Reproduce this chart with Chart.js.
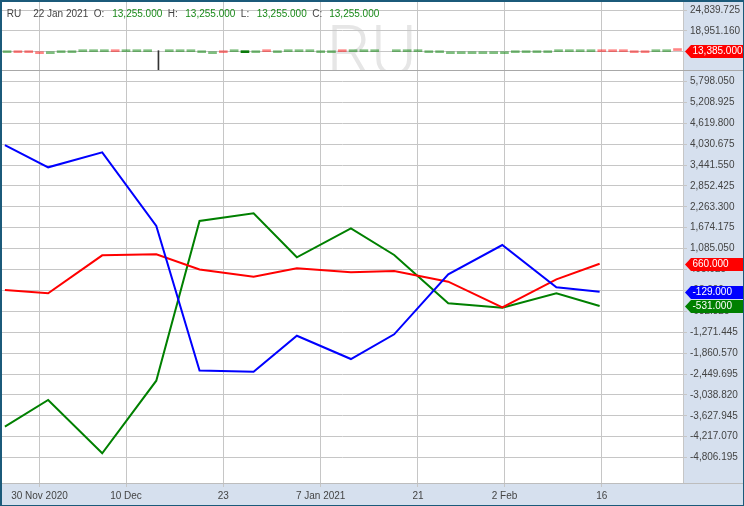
<!DOCTYPE html>
<html>
<head>
<meta charset="utf-8">
<script src="https://cdn.jsdelivr.net/npm/chart.js@4.4.1/dist/chart.umd.min.js"></script>
<style>
  body { margin: 0; background: #fff; }
  #frame {
    position: absolute; left: 0; top: 0;
    width: 741px; height: 503px;
    border-left: 2px solid #1b5a7a; border-top: 2px solid #1b5a7a;
    border-right: 1px solid #1b5a7a; border-bottom: 1px solid #1b5a7a;
  }
  canvas { display: block; }
</style>
</head>
<body>
<div id="frame"><canvas id="chart" width="741" height="503"></canvas></div>
<script>
// header of the top (RU) panel
const ticker = 'RU';
const hdrDate = '22 Jan 2021';
const hdrOHLC = [13255, 13255, 13255, 13255];

// x axis: trading-day index, 30 Nov 2020 = 0
const xTickDays = [0, 8, 17, 26, 35, 43, 52];
const xTickLabels = ['30 Nov 2020', '10 Dec', '23', '7 Jan 2021', '21', '2 Feb', '16'];

// weekly lines (main panel)
const weekDays = [-3, 1, 6, 11, 15, 20, 24, 29, 33, 38, 43, 48, 52];
const blueValues = [4005, 3377, 3800, 1722, -2351, -2385, -1370, -2027, -1331, 361, 1187, -6, -129];
const redValues = [-82, -175, 896, 925, 496, 293, 530, 417, 454, 152, -570, 220, 660];
const greenValues = [-3935, -3182, -4685, -2638, 1863, 2080, 840, 1657, 905, -457, -581, -175, -531];

// daily candles of the top panel, first one is day -3
const stripFirstDay = -3;
const stripOpen = [
  12782, 13346, 13346, 13064, 12500, 12782, 12782, 13064, 13064, 13064,
  13628, 13064, 13064, 13064, null, 13064, 13064, 13064, 12782, 12500,
  13346, 13064, 12782, 12782, 13628, 12782, 13064, 13064, 13064, 12782,
  12782, 13628, 13064, 13064, 13064, null, 13064, 13064, 13064, 12782,
  12782, 12500, 12500, 12500, 12500, 12500, 12500, 12782, 12782, 12782,
  12782, 13064, 13064, 13064, 13064, 13628, 13628, 13628, 13346, 13346,
  13064, 13064, 13628
];
const stripClose = [
  13346, 12782, 12782, 12500, 13064, 13346, 13346, 13628, 13628, 13628,
  13064, 13628, 13628, 13628, null, 13628, 13628, 13628, 13346, 13064,
  12782, 13628, 13346, 13346, 13064, 13346, 13628, 13628, 13628, 13346,
  13346, 13064, 13628, 13628, 13628, null, 13628, 13628, 13628, 13346,
  13346, 13064, 13064, 13064, 13064, 13064, 13064, 13346, 13346, 13346,
  13346, 13628, 13628, 13628, 13628, 13064, 13064, 13064, 12782, 12782,
  13628, 13628, 13385
];
const stripHighlightDay = 19;
const wickDays = [11];
const wickLow = [6000];
const wickHigh = [13346];

// y axis ticks
const yTopTicks = [24839.725, 18951.160, 13062.595];
const yMainTicks = [5798.050, 5208.925, 4619.800, 4030.675, 3441.550, 2852.425, 2263.300,
  1674.175, 1085.050, 495.925, -93.200, -682.325, -1271.445, -1860.570, -2449.695,
  -3038.820, -3627.945, -4217.070, -4806.195];

const FONT = 'Liberation Sans';
const GRID = '#c6c6c6';
const PANEL = '#d6e0ee';
const AXIS_W = 60;
const fmt = v => v.toLocaleString('en-US', { minimumFractionDigits: 3, maximumFractionDigits: 3 });

const candles = [];
const candleColors = [];
stripOpen.forEach((o, i) => {
  const c = stripClose[i];
  if (o == null) return;
  const day = stripFirstDay + i;
  candles.push({ x: day, y: [o, c] });
  if (day === stripHighlightDay) candleColors.push('#0b7a0b');
  else candleColors.push(c >= o ? 'rgba(0,128,0,0.5)' : 'rgba(255,0,0,0.48)');
});

const weekly = vals => vals.map((v, i) => ({ x: weekDays[i], y: v }));
const lineSet = (vals, color) => ({
  type: 'line', data: weekly(vals), xAxisID: 'xl', yAxisID: 'yMain',
  borderColor: color, borderWidth: 2, pointRadius: 0, tension: 0, fill: false
});

function drawTag(ctx, y, color, text, left, right) {
  y = Math.round(y) + 0.5;
  ctx.fillStyle = color;
  ctx.beginPath();
  ctx.moveTo(left, y);
  ctx.lineTo(left + 6, y - 6.5);
  ctx.lineTo(right, y - 6.5);
  ctx.lineTo(right, y + 6.5);
  ctx.lineTo(left + 6, y + 6.5);
  ctx.closePath();
  ctx.fill();
  ctx.fillStyle = '#fff';
  ctx.font = '10px ' + FONT;
  ctx.textAlign = 'left';
  ctx.textBaseline = 'middle';
  ctx.fillText(text, left + 7.5, y);
}

const noPad = s => { s.paddingTop = 0; s.paddingBottom = 0; s.paddingLeft = 0; s.paddingRight = 0; };

const panels = {
  id: 'panels',
  beforeDraw(chart) {
    const { ctx, chartArea, width, height } = chart;
    const top = chart.scales.yTop;
    ctx.save();
    ctx.fillStyle = '#fff';
    ctx.fillRect(0, 0, width, height);
    ctx.fillStyle = PANEL;
    ctx.fillRect(chartArea.right, 0, width - chartArea.right, height);
    ctx.fillRect(0, chartArea.bottom, width, height - chartArea.bottom);
    // watermark
    ctx.beginPath();
    ctx.rect(chartArea.left, top.top, chartArea.width, top.bottom - top.top);
    ctx.clip();
    ctx.fillStyle = '#e6e6e6';
    ctx.font = '300 70px Roboto';
    ctx.textAlign = 'center';
    ctx.textBaseline = 'alphabetic';
    const m = ctx.measureText(ticker);
    ctx.fillText(ticker, width / 2 - 1, 23 + m.actualBoundingBoxAscent);
    ctx.restore();
  },
  beforeDatasetDraw(chart, args) {
    const ds = chart.data.datasets[args.index];
    const s = chart.scales[ds.yAxisID];
    const ctx = chart.ctx;
    ctx.save();
    ctx.beginPath();
    ctx.rect(chart.chartArea.left, s.top, chart.chartArea.width, s.bottom - s.top);
    ctx.clip();
  },
  afterDatasetDraw(chart) {
    chart.ctx.restore();
  },
  afterDraw(chart) {
    const { ctx, chartArea, width } = chart;
    const top = chart.scales.yTop;
    const main = chart.scales.yMain;
    ctx.save();
    // panel separators
    ctx.fillStyle = '#a8a8a8';
    ctx.fillRect(0, Math.round(top.bottom), width, 1);
    ctx.fillStyle = '#bdbdbd';
    ctx.fillRect(0, Math.round(chartArea.bottom), width, 1);

    // header line
    ctx.font = '10px ' + FONT;
    ctx.textBaseline = 'middle';
    ctx.textAlign = 'left';
    const label = '#444', val = '#1a8a1a';
    const parts = [
      [ticker, label, 12], [hdrDate, label, 5.5],
      ['O:', label, 8], [fmt(hdrOHLC[0]), val, 5.5],
      ['H:', label, 7.5], [fmt(hdrOHLC[1]), val, 5.5],
      ['L:', label, 7.5], [fmt(hdrOHLC[2]), val, 5.5],
      ['C:', label, 7], [fmt(hdrOHLC[3]), val, 0]
    ];
    let x = 4.7;
    parts.forEach(([t, c, gap]) => {
      ctx.fillStyle = c;
      ctx.fillText(t, x, 12.7);
      x += ctx.measureText(t).width + gap;
    });

    // last value tags
    const left = chartArea.right + 2, right = width;
    const lastClose = stripClose[stripClose.length - 1];
    const lastOpen = stripOpen[stripOpen.length - 1];
    drawTag(ctx, top.getPixelForValue(lastClose), lastClose >= lastOpen ? '#008000' : '#ff0000', fmt(lastClose), left, right);
    [[redValues, '#ff0000'], [blueValues, '#0000ff'], [greenValues, '#008000']].forEach(([vals, c]) => {
      const v = vals[vals.length - 1];
      drawTag(ctx, main.getPixelForValue(v), c, fmt(v), left, right);
    });
    ctx.restore();
  }
};

const yAxis = (ticks, min, max, weight) => ({
  type: 'linear', position: 'right', stack: 'panes', stackWeight: weight,
  min, max,
  afterBuildTicks: s => { s.ticks = ticks.map(v => ({ value: v })); },
  afterFit: s => { s.width = AXIS_W; noPad(s); },
  grid: { color: GRID, tickLength: 4 },
  border: { color: GRID },
  ticks: { autoSkip: false, padding: 3, color: '#444', font: { family: FONT, size: 10 }, callback: v => fmt(v) }
});

new Chart(document.getElementById('chart'), {
  type: 'line',
  data: {
    datasets: [
      {
        type: 'bar', data: candles, xAxisID: 'x', yAxisID: 'yTop',
        backgroundColor: candleColors, barThickness: 8, minBarLength: 2, grouped: false, borderWidth: 0
      },
      {
        type: 'bar', data: wickDays.map((d, i) => ({ x: d, y: [wickLow[i], wickHigh[i]] })),
        xAxisID: 'x', yAxisID: 'yTop', backgroundColor: '#333', barThickness: 1, grouped: false, borderWidth: 0
      },
      lineSet(blueValues, '#0000ff'),
      lineSet(redValues, '#ff0000'),
      lineSet(greenValues, '#008000')
    ]
  },
  options: {
    responsive: false,
    animation: false,
    devicePixelRatio: 1,
    layout: { padding: 0, autoPadding: false },
    plugins: { legend: { display: false }, tooltip: { enabled: false } },
    scales: {
      yTop: yAxis(yTopTicks, 7890, 27100, 68),
      yMain: yAxis(yMainTicks, -5522, 6120, 413),
      x: {
        type: 'linear', position: 'bottom', min: -3.468, max: 59.51, offset: false,
        afterBuildTicks: s => { s.ticks = xTickDays.map(v => ({ value: v })); },
        afterFit: s => { s.height = 22; noPad(s); },
        grid: { color: GRID, tickLength: 4, offset: false },
        border: { color: '#bdbdbd' },
        ticks: {
          autoSkip: false, maxRotation: 0, padding: 3, color: '#444',
          font: { family: FONT, size: 10 },
          callback: v => xTickLabels[xTickDays.indexOf(v)]
        }
      },
      xl: { type: 'linear', axis: 'x', position: 'bottom', display: false, min: -3.268, max: 59.71, offset: false, afterFit: noPad }
    }
  },
  plugins: [panels]
});
</script>
</body>
</html>
